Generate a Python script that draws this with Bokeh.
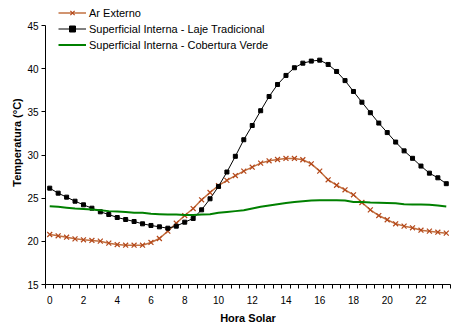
from bokeh.plotting import figure
from bokeh.models import FixedTicker, Range1d, Legend, LegendItem
from bokeh.embed import file_html
from bokeh.resources import INLINE

hours = [i * 0.5 for i in range(48)]

ar_externo = [20.79, 20.64, 20.48, 20.29, 20.18, 20.10, 20.02, 19.79, 19.63, 19.55,
              19.55, 19.55, 19.87, 20.33, 21.18, 22.10, 22.99, 23.80, 24.81, 25.66,
              26.45, 27.06, 27.62, 28.13, 28.59, 29.06, 29.33, 29.48, 29.60, 29.60,
              29.45, 28.98, 28.13, 27.13, 26.50, 25.97, 25.39, 24.50, 23.65, 22.99,
              22.50, 22.03, 21.76, 21.57, 21.29, 21.18, 21.06, 20.95]

laje_tradicional = [26.16, 25.58, 25.12, 24.65, 24.23, 23.84, 23.42, 23.11, 22.76, 22.53,
                    22.30, 22.03, 21.84, 21.68, 21.52, 21.76, 22.22, 22.65, 23.65, 24.93,
                    26.36, 28.03, 29.85, 31.77, 33.42, 35.13, 36.78, 38.17, 39.22, 40.11,
                    40.64, 40.88, 40.99, 40.49, 39.68, 38.62, 37.36, 36.12, 34.90, 33.70,
                    32.60, 31.50, 30.48, 29.62, 28.72, 27.90, 27.36, 26.68]

cobertura_verde = [24.07, 24.00, 23.90, 23.80, 23.75, 23.70, 23.60, 23.50, 23.45, 23.40,
                   23.30, 23.30, 23.20, 23.15, 23.10, 23.10, 23.05, 23.05, 23.10, 23.15,
                   23.30, 23.40, 23.50, 23.60, 23.80, 24.00, 24.15, 24.30, 24.45, 24.55,
                   24.65, 24.73, 24.75, 24.75, 24.75, 24.73, 24.55, 24.55, 24.50, 24.48,
                   24.45, 24.40, 24.30, 24.27, 24.27, 24.25, 24.15, 24.04]

x_labels = list(range(0, 24, 2))
y_ticks = [15, 20, 25, 30, 35, 40, 45]

FONT = "Liberation Sans"

p = figure(width=451, height=326, output_backend="svg", toolbar_location=None,
           x_range=Range1d(-0.25, 23.75), y_range=Range1d(15, 47.9),
           min_border_left=45, min_border_right=1, min_border_top=0, min_border_bottom=42)
p.outline_line_color = None
p.xgrid.visible = False
p.ygrid.visible = False
p.background_fill_color = "white"

l1 = p.line(hours, ar_externo, line_color="#C27040", line_width=1.5)
s1 = p.scatter(hours, ar_externo, marker="x", size=7, line_color="#B4481A", line_width=1.2)
l2 = p.line(hours, laje_tradicional, line_color="black", line_width=1)
s2 = p.scatter(hours, laje_tradicional, marker="square", size=4, fill_color="black", line_color="black")
l3 = p.line(hours, cobertura_verde, line_color="#008000", line_width=2)

legend = Legend(items=[
    LegendItem(label="Ar Externo", renderers=[l1, s1]),
    LegendItem(label="Superficial Interna - Laje Tradicional", renderers=[l2, s2]),
    LegendItem(label="Superficial Interna - Cobertura Verde", renderers=[l3]),
], location=(13, 232))
legend.background_fill_alpha = 0
legend.border_line_alpha = 0
legend.padding = 0
legend.margin = 0
legend.spacing = 1
legend.glyph_width = 28
legend.glyph_height = 15
legend.label_height = 15
legend.label_standoff = 3
legend.label_text_font = FONT
legend.label_text_font_size = "11px"
legend.label_text_color = "black"
p.add_layout(legend)

xa = p.xaxis[0]
xa.ticker = FixedTicker(ticks=x_labels, minor_ticks=[-0.25 + 0.5 * k for k in range(49)])
xa.major_tick_out = 0
xa.major_tick_in = 0
xa.minor_tick_out = 4
xa.minor_tick_in = 0
xa.minor_tick_line_color = "black"
xa.axis_line_color = "black"
xa.major_label_standoff = 7
xa.major_label_text_font = FONT
xa.major_label_text_font_size = "10px"
xa.major_label_text_color = "black"
xa.axis_label = "Hora Solar"
xa.axis_label_text_font = FONT
xa.axis_label_text_font_size = "11px"
xa.axis_label_text_font_style = "bold"
xa.axis_label_text_color = "black"
xa.axis_label_standoff = 5

ya = p.yaxis[0]
ya.ticker = FixedTicker(ticks=y_ticks)
ya.bounds = (15, 45)
ya.major_tick_out = 4
ya.major_tick_in = 0
ya.minor_tick_out = 0
ya.minor_tick_in = 0
ya.major_tick_line_color = "black"
ya.axis_line_color = "black"
ya.major_label_standoff = 3
ya.major_label_text_font = FONT
ya.major_label_text_font_size = "10px"
ya.major_label_text_color = "black"
ya.axis_label = "Temperatura (°C)"
ya.axis_label_text_font = FONT
ya.axis_label_text_font_size = "11px"
ya.axis_label_text_font_style = "bold"
ya.axis_label_text_color = "black"
ya.axis_label_standoff = 1

open("out.html", "w").write(file_html(p, INLINE))
